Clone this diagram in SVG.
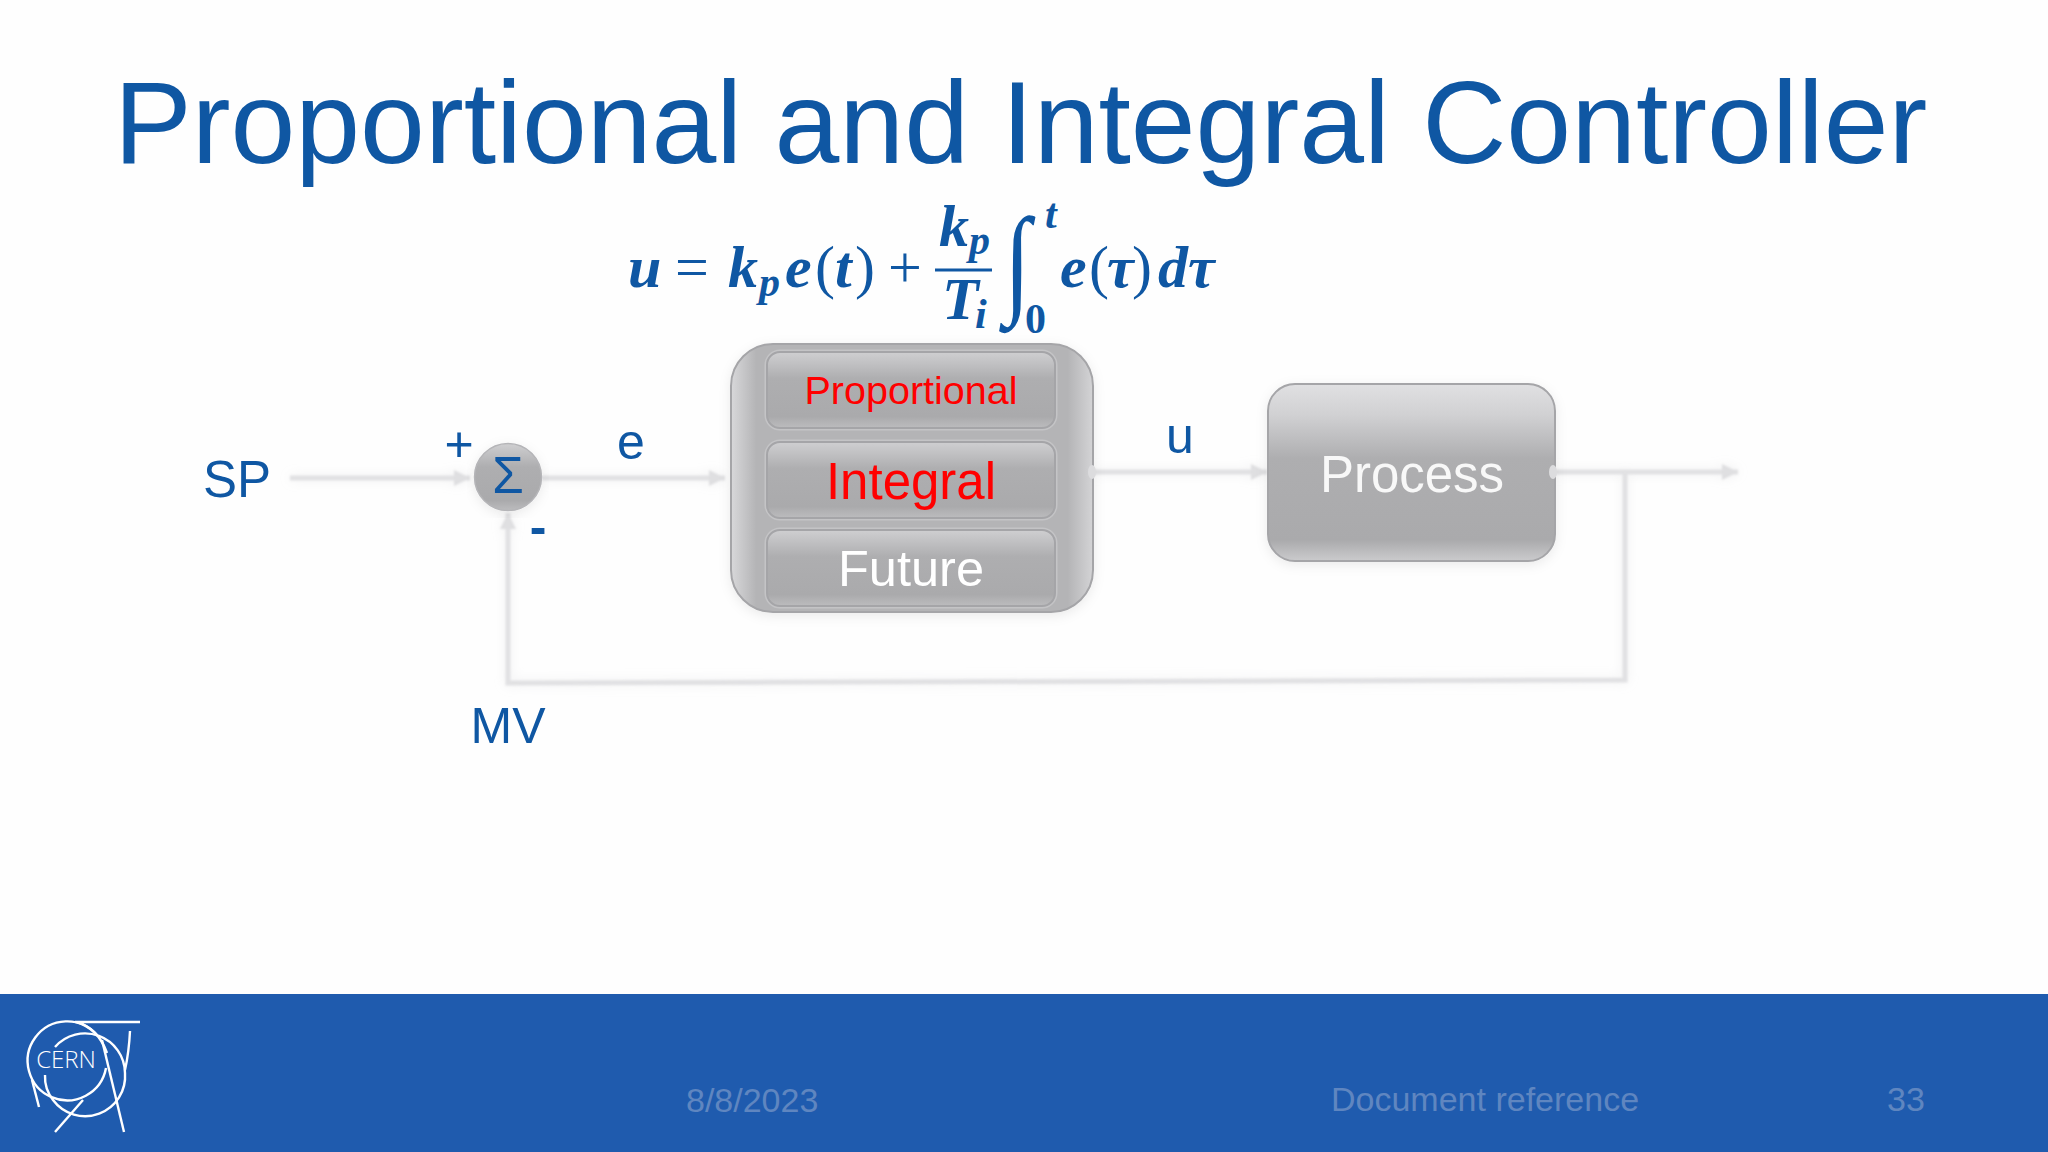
<svg xmlns="http://www.w3.org/2000/svg" width="2048" height="1152" viewBox="0 0 2048 1152">
<style>
.s{font-family:"Liberation Sans",Arial,sans-serif}
.b{fill:#0f57a3}
.m{font-family:"Liberation Serif","Times New Roman",serif;font-weight:700;font-style:italic;fill:#0f57a3;font-size:60px}
.n{font-style:normal;font-weight:400}
.ms{font-size:42px}
.c{fill:none;stroke:#e1e1e3;stroke-width:5;filter:url(#soft)}
.f{fill:#5f86c0;font-size:34px}
.box{stroke:#a5a5a8;stroke-width:2}
.halo{fill:none;stroke:#c4c4c6;stroke-width:5}
.logo{fill:none;stroke:#fff;stroke-width:2.4}
</style>
<defs>
<linearGradient id="g" x1="0" y1="0" x2="0" y2="1">
<stop offset="0" stop-color="#e0e0e2"/><stop offset=".18" stop-color="#d0d0d2"/><stop offset=".42" stop-color="#aeaeb0"/><stop offset=".88" stop-color="#aaaaac"/><stop offset="1" stop-color="#cbcbcd"/>
</linearGradient>
<linearGradient id="gi" x1="0" y1="0" x2="0" y2="1">
<stop offset="0" stop-color="#cfcfd1"/><stop offset=".35" stop-color="#aeaeb0"/><stop offset=".85" stop-color="#aaaaac"/><stop offset="1" stop-color="#bcbcbe"/>
</linearGradient>
<linearGradient id="go" x1="0" y1="0" x2="1" y2="0">
<stop offset="0" stop-color="#d8d8da"/><stop offset=".07" stop-color="#b4b4b6"/><stop offset=".93" stop-color="#b4b4b6"/><stop offset="1" stop-color="#d4d4d6"/>
</linearGradient>
<filter id="soft" x="0" y="0" width="2048" height="1152" filterUnits="userSpaceOnUse"><feGaussianBlur in="SourceGraphic" stdDeviation="6" result="w"/><feComponentTransfer in="w" result="h"><feFuncA type="linear" slope=".5"/></feComponentTransfer><feGaussianBlur in="SourceGraphic" stdDeviation=".8" result="n"/><feMerge><feMergeNode in="h"/><feMergeNode in="n"/></feMerge></filter>
<filter id="sh" x="-10%" y="-10%" width="120%" height="120%"><feDropShadow dx="0" dy="3" stdDeviation="6" flood-color="#000" flood-opacity=".08"/></filter>
<marker id="a" markerUnits="userSpaceOnUse" markerWidth="18" markerHeight="18" refX="16" refY="8" orient="auto"><path d="M0 0L16 8L0 16Z" fill="#dfdfe1"/></marker>
</defs>
<rect width="2048" height="1152" fill="#fefefe"/>
<text id="title" class="s b" x="114" y="163" font-size="116.5">Proportional and Integral Controller</text>
<g id="equation">
<text class="m" y="287"><tspan x="628">u</tspan><tspan x="675" class="n">=</tspan><tspan x="728">k</tspan><tspan x="785">e</tspan><tspan x="815" class="n">(</tspan><tspan x="835">t</tspan><tspan x="855" class="n">)</tspan><tspan x="888" class="n">+</tspan><tspan x="1060">e</tspan><tspan x="1089" class="n">(</tspan><tspan x="1107">τ</tspan><tspan x="1132" class="n">)</tspan><tspan x="1158">d</tspan><tspan x="1188">τ</tspan></text>
<text class="m ms" x="759" y="296">p</text>
<text class="m" x="939" y="246">k</text><text class="m ms" x="969" y="254">p</text>
<rect x="935" y="268.5" width="57" height="3" fill="#0f57a3"/>
<text class="m" x="942" y="319">T</text><text class="m ms" x="975" y="328">i</text>
<text x="0" y="0" transform="translate(1004 301) scale(.8 1)" font-family="'Liberation Serif',serif" font-weight="400" font-size="120" fill="#0f57a3">∫</text>
<text class="m ms" x="1045" y="228">t</text>
<text class="m ms n" style="font-weight:700;font-style:normal" x="1025" y="333">0</text>
</g>
<g id="connectors">
<path class="c" d="M290 478H470" marker-end="url(#a)"/>
<path class="c" d="M542 478H725" marker-end="url(#a)"/>
<path class="c" d="M1093 472H1267" marker-end="url(#a)"/>
<path class="c" d="M1555 472H1738" marker-end="url(#a)"/>
<path class="c" d="M1625 472V680L508 683V513" marker-end="url(#a)"/>
</g>
<g id="sum">
<circle cx="508" cy="477" r="33.5" fill="url(#gi)" stroke="#b5b5b8" stroke-width="1.5" filter="url(#sh)"/>
<text class="s b" x="508" y="493" font-size="51" text-anchor="middle">Σ</text>
</g>
<g id="controller">
<rect x="731" y="344" width="362" height="268" rx="42" fill="url(#go)" class="box" filter="url(#sh)"/>
<g id="proportional"><rect x="767" y="352" width="288" height="76" rx="13" class="halo"/><rect x="767" y="352" width="288" height="76" rx="13" fill="url(#gi)" class="box"/>
<text class="s" x="911" y="404" font-size="39.5" text-anchor="middle" fill="#f00">Proportional</text></g>
<g id="integral"><rect x="767" y="442" width="288" height="76" rx="13" class="halo"/><rect x="767" y="442" width="288" height="76" rx="13" fill="url(#gi)" class="box"/>
<text class="s" x="911" y="499" font-size="51" text-anchor="middle" fill="#f00">Integral</text></g>
<g id="future"><rect x="767" y="530" width="288" height="76" rx="13" class="halo"/><rect x="767" y="530" width="288" height="76" rx="13" fill="url(#gi)" class="box"/>
<text class="s" x="911" y="586" font-size="50.5" text-anchor="middle" fill="#fff">Future</text></g>
<ellipse cx="1092" cy="472" rx="4" ry="7" fill="#dcdcde"/>
</g>
<g id="process">
<rect x="1268" y="384" width="287" height="177" rx="27" fill="url(#g)" class="box" filter="url(#sh)"/>
<text class="s" x="1412" y="492" font-size="51" text-anchor="middle" fill="#f8f8f8">Process</text>
<ellipse cx="1553" cy="472" rx="4" ry="7" fill="#dcdcde"/>
</g>
<g id="labels" class="s b" font-size="50">
<text x="203" y="497" font-size="51">SP</text>
<text x="508" y="743" text-anchor="middle">MV</text>
<text x="631" y="459" text-anchor="middle">e</text>
<text x="1180" y="453" text-anchor="middle">u</text>
<text x="459" y="461" text-anchor="middle">+</text>
<text x="538" y="544" text-anchor="middle" font-weight="700">-</text>
</g>
<g id="footer">
<rect y="994" width="2048" height="158" fill="#1f5bae"/>
<text class="s f" x="686" y="1112">8/8/2023</text>
<text class="s f" x="1331" y="1111">Document reference</text>
<text class="s f" x="1887" y="1111">33</text>
</g>
<g id="logo">
<path class="logo" d="M97 1035A39.5 39.5 0 1 0 106 1068"/>
<path class="logo" d="M75 1022H140M76 1022Q98 1028 107 1053"/>
<path class="logo" d="M55 1047A40 40 0 0 1 125 1073A40 40 0 0 1 53 1100A38 38 0 0 1 45 1075"/>
<path class="logo" d="M130 1031Q129 1052 125 1070"/>
<path class="logo" d="M32 1080L39 1107"/>
<path class="logo" d="M55 1132L83 1100"/>
<path class="logo" d="M102 1040L124 1132"/>
<text x="66" y="1068" font-family="'Open Sans',sans-serif" font-weight="300" font-size="24" text-anchor="middle" fill="#fff">CERN</text>
</g>
</svg>
